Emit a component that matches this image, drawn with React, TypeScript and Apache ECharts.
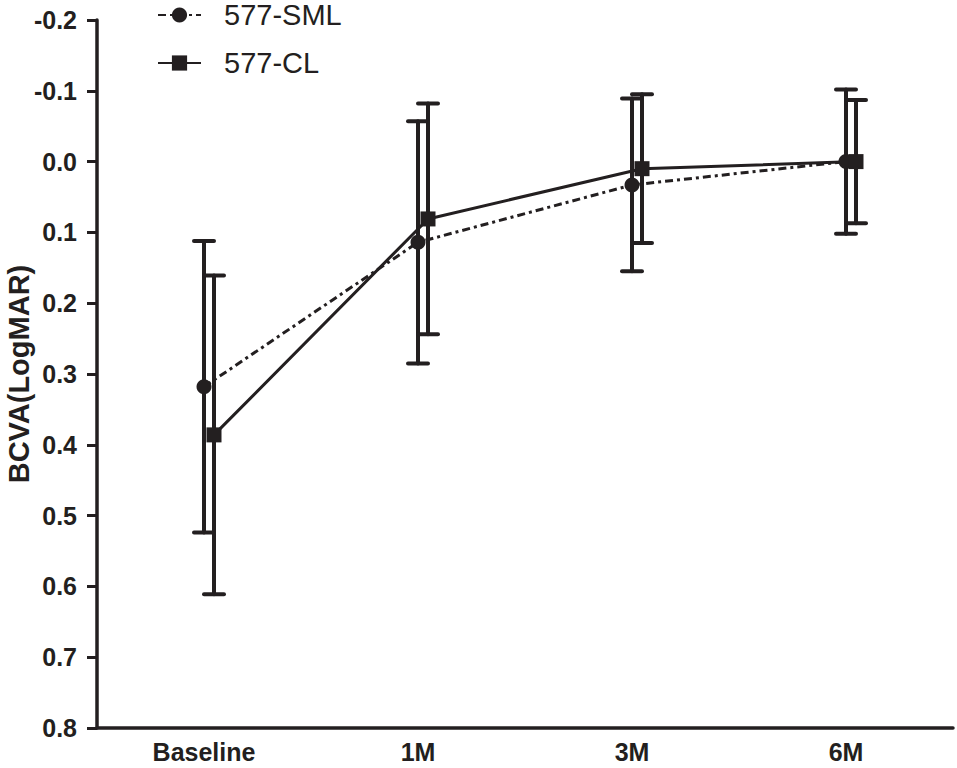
import React, { useEffect, useRef } from "react";
import * as echarts from "echarts";

const categories = ["Baseline", "1M", "3M", "6M"];
const smlMean = [0.318, 0.114, 0.033, 0.0];
const smlSD = [0.206, 0.171, 0.122, 0.102];
const clMean = [0.386, 0.081, 0.01, 0.0];
const clSD = [0.225, 0.163, 0.105, 0.087];

const INK = "#231f20";
const FONT = "'Liberation Sans', Arial, sans-serif";

function errData(mean: number[], sd: number[]) {
  return mean.map((m, i) => [i, m - sd[i], m + sd[i]]);
}

function errRender(params: any, api: any) {
  const i = api.value(0);
  const lo = api.coord([i, api.value(1)]);
  const hi = api.coord([i, api.value(2)]);
  const cw = 10;
  const style = { stroke: INK, lineWidth: 4, lineCap: "round" };
  return {
    type: "group",
    children: [
      { type: "line", shape: { x1: lo[0], y1: lo[1], x2: hi[0], y2: hi[1] }, style },
      { type: "line", shape: { x1: lo[0] - cw, y1: lo[1], x2: lo[0] + cw, y2: lo[1] }, style },
      { type: "line", shape: { x1: hi[0] - cw, y1: hi[1], x2: hi[0] + cw, y2: hi[1] }, style },
    ],
  };
}

export default function App() {
  const ref = useRef<HTMLDivElement>(null);
  useEffect(() => {
    if (!ref.current) return;
    const chart = echarts.init(ref.current, undefined, { renderer: "svg" });
    const yBase = {
      type: "value",
      inverse: true,
      min: -0.2,
      max: 0.8,
      interval: 0.1,
      splitLine: { show: false },
    };
    const xBase = {
      type: "category",
      data: categories,
      boundaryGap: true,
    };
    chart.setOption({
      animation: false,
      backgroundColor: "#ffffff",
      textStyle: { fontFamily: FONT },
      legend: {
        orient: "vertical",
        left: 157,
        top: 0,
        padding: 0,
        itemWidth: 43,
        itemHeight: 19,
        itemGap: 18,
        data: ["577-SML", "577-CL"],
        textStyle: {
          fontFamily: FONT,
          fontSize: 29,
          color: INK,
          lineHeight: 30,
          padding: [0, 0, 0, 18],
        },
      },
      grid: [
        { left: 97, top: 20, width: 856, height: 708, outerBoundsMode: "none", containLabel: false },
        { left: 107, top: 20, width: 856, height: 708, outerBoundsMode: "none", containLabel: false },
      ],
      xAxis: [
        {
          ...xBase,
          gridIndex: 0,
          axisLine: { onZero: false, lineStyle: { color: INK, width: 3.5 } },
          axisTick: { alignWithLabel: true, length: 10, lineStyle: { color: INK, width: 3 } },
          axisLabel: {
            fontFamily: FONT,
            fontSize: 25,
            fontWeight: "bold",
            color: INK,
            margin: 11,
          },
        },
        { ...xBase, gridIndex: 1, show: false },
      ],
      yAxis: [
        {
          ...yBase,
          gridIndex: 0,
          name: "BCVA(LogMAR)",
          nameLocation: "middle",
          nameGap: 64,
          nameMoveOverlap: false,
          nameTextStyle: {
            fontFamily: FONT,
            fontSize: 29,
            fontWeight: "bold",
            color: INK,
          },
          axisLine: { show: true, lineStyle: { color: INK, width: 3.5 } },
          axisTick: { show: true, length: 10, lineStyle: { color: INK, width: 3 } },
          axisLabel: {
            fontFamily: FONT,
            fontSize: 25,
            fontWeight: "bold",
            color: INK,
            margin: 20,
            formatter: (v: number) => v.toFixed(1),
          },
        },
        { ...yBase, gridIndex: 1, show: false },
      ],
      series: [
        {
          type: "custom",
          name: "sml-err",
          xAxisIndex: 0,
          yAxisIndex: 0,
          renderItem: errRender,
          data: errData(smlMean, smlSD),
          z: 1,
          silent: true,
        },
        {
          type: "custom",
          name: "cl-err",
          xAxisIndex: 1,
          yAxisIndex: 1,
          renderItem: errRender,
          data: errData(clMean, clSD),
          z: 1,
          silent: true,
        },
        {
          type: "line",
          name: "577-SML",
          xAxisIndex: 0,
          yAxisIndex: 0,
          data: smlMean,
          symbol: "circle",
          symbolSize: 15,
          itemStyle: { color: INK },
          lineStyle: { color: INK, width: 3, type: [8, 4, 3, 4] },
          z: 3,
        },
        {
          type: "line",
          name: "577-CL",
          xAxisIndex: 1,
          yAxisIndex: 1,
          data: clMean,
          symbol: "rect",
          symbolSize: 15,
          itemStyle: { color: INK },
          lineStyle: { color: INK, width: 3, type: "solid" },
          z: 3,
        },
      ],
    });
    return () => chart.dispose();
  }, []);
  return (
    <div
      ref={ref}
      style={{ position: "absolute", left: 0, top: 0, width: 957, height: 768, background: "#fff" }}
    />
  );
}
